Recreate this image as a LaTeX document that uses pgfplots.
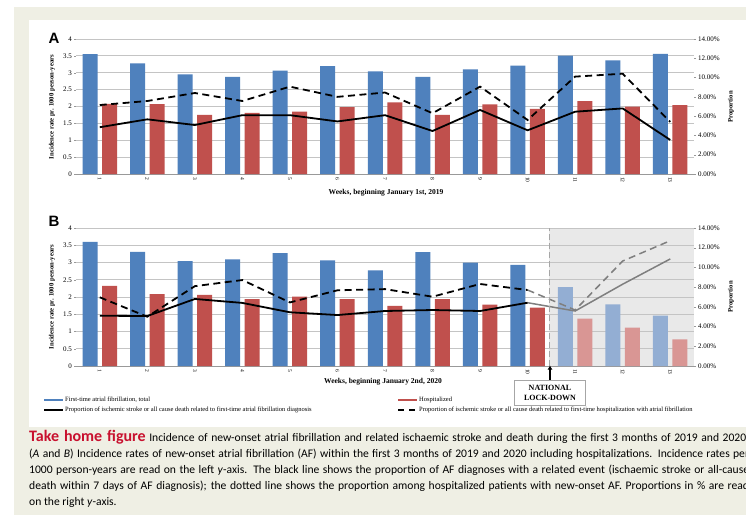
\documentclass[border=0pt]{standalone}
\usepackage{pgfplots}
\pgfplotsset{compat=1.18}
\usepackage{fontspec}
\setmainfont{Liberation Serif}
\newfontfamily\capfont{Carlito}
\newfontfamily\lblfont{Liberation Sans}
\usetikzlibrary{arrows.meta}
\definecolor{beige}{HTML}{EFEFE4}
\definecolor{afblue}{HTML}{4F81BD}
\definecolor{afred}{HTML}{C0504D}
\definecolor{fblue}{HTML}{93AED3}
\definecolor{fred}{HTML}{D99694}
\definecolor{gridc}{HTML}{C4C4C4}
\definecolor{shadec}{HTML}{E9E9E9}
\definecolor{thf}{HTML}{C8102E}
\definecolor{lgrey}{HTML}{7F7F7F}

\pgfplotsset{
 leftax/.style={scale only axis, width=618pt, xmin=0.5, xmax=13.5, ymin=0, ymax=4,
   ytick={0,0.5,1,1.5,2,2.5,3,3.5,4}, yticklabels={0,0.5,1,1.5,2,2.5,3,3.5,4},
   ymajorgrids, grid style={gridc, line width=0.8pt},
   axis x line*=bottom, axis y line*=left, y axis line style={draw=none},
   x axis line style={gray!80, line width=0.8pt, -},
   xtick={1,...,13}, xticklabels={1,2,3,4,5,6,7,8,9,10,11,12,13},
   xticklabel style={rotate=-90, anchor=west, font=\fontsize{5.5}{6}\selectfont, inner sep=1pt},
   yticklabel style={font=\fontsize{7}{8}\selectfont, inner sep=2pt},
   ytick style={gray!80}, xtick style={draw=none}, major tick length=2pt, tick align=outside},
 rightax/.style={scale only axis, width=618pt, xmin=0.5, xmax=13.5, ymin=0, ymax=14,
   axis x line=none, axis y line*=right, y axis line style={draw=none},
   ytick={0,2,4,6,8,10,12,14},
   yticklabels={0.00\%,2.00\%,4.00\%,6.00\%,8.00\%,10.00\%,12.00\%,14.00\%},
   yticklabel style={font=\fontsize{7}{8}\selectfont, inner sep=2pt},
   ytick style={gray!80}, major tick length=2pt, tick align=outside},
 bluebar/.style={ybar, bar width=15pt, bar shift=-9.75pt, fill=afblue, draw=none},
 redbar/.style={ybar, bar width=15pt, bar shift=9.75pt, fill=afred, draw=none},
 solidl/.style={black, line width=1.8pt, mark=none},
 dashl/.style={black, line width=1.8pt, mark=none, dash pattern=on 7pt off 4.5pt},
}

\newcommand{\capline}[1]{\makebox[720pt][s]{#1}}

\begin{document}
\begin{tikzpicture}
\useasboundingbox (0pt,0pt) rectangle (746pt,515pt);
\clip (0pt,0pt) rectangle (746pt,515pt);
\begin{scope}[x=1pt,y=1pt]
\fill[white] (0,0) rectangle (746,515);
\fill[beige] (14,0) rectangle (746,508);
\fill[white] (29,88) rectangle (746,495);
\fill[shadec] (549,149) rectangle (694,287);
\node[font=\lblfont\bfseries\fontsize{15}{15}\selectfont] at (54,477) {A};
\node[font=\lblfont\bfseries\fontsize{15}{15}\selectfont] at (54,294) {B};
\end{scope}

% ---------------- Panel A ----------------
\begin{axis}[leftax, at={(76pt,341pt)}, anchor=south west, height=135pt]
\addplot[bluebar] coordinates {(1,3.55) (2,3.28) (3,2.95) (4,2.88) (5,3.06) (6,3.20) (7,3.04) (8,2.88) (9,3.10) (10,3.21) (11,3.51) (12,3.37) (13,3.56)};
\addplot[redbar] coordinates {(1,2.08) (2,2.07) (3,1.75) (4,1.81) (5,1.85) (6,1.98) (7,2.12) (8,1.75) (9,2.06) (10,1.93) (11,2.16) (12,2.00) (13,2.04)};
\end{axis}
\begin{axis}[rightax, at={(76pt,341pt)}, anchor=south west, height=135pt]
\addplot[solidl] coordinates {(1,4.85) (2,5.67) (3,5.08) (4,6.1) (5,6.1) (6,5.45) (7,6.1) (8,4.46) (9,6.64) (10,4.53) (11,6.46) (12,6.8) (13,3.53)};
\addplot[dashl] coordinates {(1,7.15) (2,7.57) (3,8.4) (4,7.57) (5,9.06) (6,8.0) (7,8.45) (8,6.3) (9,9.06) (10,5.6) (11,10.1) (12,10.4) (13,5.4)};
\end{axis}

% ---------------- Panel B ----------------
\begin{axis}[leftax, at={(76pt,149pt)}, anchor=south west, height=138pt]
\addplot[bluebar] coordinates {(1,3.60) (2,3.31) (3,3.04) (4,3.09) (5,3.27) (6,3.06) (7,2.77) (8,3.30) (9,3.00) (10,2.93)};
\addplot[redbar] coordinates {(1,2.32) (2,2.08) (3,2.06) (4,1.94) (5,2.01) (6,1.94) (7,1.74) (8,1.94) (9,1.78) (10,1.69)};
\addplot[bluebar, fill=fblue] coordinates {(11,2.29) (12,1.79) (13,1.46)};
\addplot[redbar, fill=fred] coordinates {(11,1.37) (12,1.11) (13,0.77)};
\end{axis}
\begin{axis}[rightax, at={(76pt,149pt)}, anchor=south west, height=138pt]
\addplot[solidl, lgrey, line width=1.5pt] coordinates {(10,6.42) (11,5.58) (12,8.3) (13,10.86)};
\addplot[dashl, lgrey, line width=1.5pt] coordinates {(10,7.71) (11,5.68) (12,10.65) (13,12.71)};
\addplot[solidl] coordinates {(1,5.1) (2,5.07) (3,6.8) (4,6.4) (5,5.45) (6,5.17) (7,5.58) (8,5.68) (9,5.58) (10,6.42)};
\addplot[dashl] coordinates {(1,6.97) (2,5.0) (3,8.1) (4,8.72) (5,6.45) (6,7.68) (7,7.8) (8,7.03) (9,8.32) (10,7.71)};
\end{axis}

\begin{scope}[x=1pt,y=1pt]
\node[rotate=90, font=\bfseries\fontsize{6.7}{7}\selectfont] at (52,408) {Incidence rate pr. 1000 person-years};
\node[rotate=90, font=\bfseries\fontsize{6.7}{7}\selectfont] at (731,408) {Proportion};
\node[font=\bfseries\fontsize{7.5}{8}\selectfont] at (386,322) {Weeks, beginning January 1st, 2019};
\draw[gray!70, line width=0.8pt, dash pattern=on 6pt off 3pt] (549,149) -- (549,287);
\node[rotate=90, font=\bfseries\fontsize{6.7}{7}\selectfont] at (52,218) {Incidence rate pr. 1000 person-years};
\node[rotate=90, font=\bfseries\fontsize{6.7}{7}\selectfont] at (731,218) {Proportion};
\node[font=\bfseries\fontsize{7.5}{8}\selectfont] at (383,133) {Weeks, beginning January 2nd, 2020};

% lockdown box
\draw[black, line width=2pt, -{Latex[length=4pt,width=5pt]}] (550,134) -- (550,149.5);
\node[draw=gray!70, line width=0.8pt, fill=white, minimum width=71pt, minimum height=25pt, align=center,
      font=\bfseries\fontsize{8}{10}\selectfont, inner sep=1pt] at (550,122) {NATIONAL\\LOCK-DOWN};

% legend
\begin{scope}[font=\fontsize{6.5}{7}\selectfont]
\draw[afblue, line width=2.5pt] (44,115) -- (63,115);
\node[anchor=west, inner sep=1pt] at (64,115) {First-time atrial fibrillation, total};
\draw[black, line width=1.8pt] (44,105) -- (63,105);
\node[anchor=west, inner sep=1pt] at (64,105) {Proportion of ischemic stroke or all cause death related to first-time atrial fibrillation diagnosis};
\draw[afred, line width=2.5pt] (398,115) -- (417,115);
\node[anchor=west, inner sep=1pt] at (418,115) {Hospitalized};
\draw[black, line width=1.8pt, dash pattern=on 6pt off 5pt] (398,105) -- (417,105);
\node[anchor=west, inner sep=1pt] at (418,105) {Proportion of ischemic stroke or all cause death related to first-time hospitalization with atrial fibrillation};
\end{scope}

% caption
\begin{scope}[every node/.style={anchor=west, inner sep=0pt, font=\capfont\fontsize{11.6}{12}\selectfont}]
\node at (29,78) {\capline{{\color{thf}\bfseries\fontsize{16}{16}\selectfont Take home figure} Incidence of new-onset atrial fibrillation and related ischaemic stroke and death during the first 3 months of 2019 and 2020.}};
\node at (29,61) {\capline{(\textit{A} and \textit{B}) Incidence rates of new-onset atrial fibrillation (AF) within the first 3 months of 2019 and 2020 including hospitalizations. Incidence rates per}};
\node at (29,45) {\capline{1000 person-years are read on the left \textit{y}-axis. The black line shows the proportion of AF diagnoses with a related event (ischaemic stroke or all-cause}};
\node at (29,29) {\capline{death within 7 days of AF diagnosis); the dotted line shows the proportion among hospitalized patients with new-onset AF. Proportions in \% are read}};
\node at (29,13) {on the right \textit{y}-axis.};
\end{scope}
\end{scope}
\end{tikzpicture}
\end{document}
